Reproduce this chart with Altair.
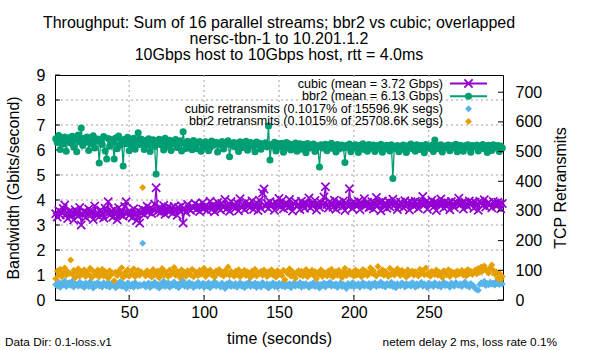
import altair as alt
import pandas as pd

# ---------------- data ----------------
time_s = list(range(1, 300))

cubic_gbps = [
    3.45, 3.32, 3.58, 3.40, 3.50, 3.66, 3.80, 3.42, 3.26, 3.54,
    3.38, 3.52, 3.20, 3.61, 3.47, 3.35, 3.70, 3.00, 3.43, 3.56,
    3.30, 3.48, 3.64, 3.37, 3.53, 3.22, 3.76, 3.41, 3.49, 3.33,
    3.60, 3.44, 3.28, 3.67, 3.51, 3.93, 3.39, 3.55, 3.31, 3.62,
    3.46, 3.21, 3.69, 3.42, 3.58, 3.36, 3.74, 3.93, 3.50, 3.38,
    3.53, 3.29, 3.65, 3.44, 3.18, 3.57, 3.08, 3.49, 3.63, 3.41,
    3.58, 3.75, 3.52, 3.67, 3.46, 3.61, 3.83, 4.49, 3.55, 3.69,
    3.50, 3.64, 3.78, 3.43, 3.60, 3.72, 3.54, 3.66, 3.47, 3.74,
    3.61, 3.39, 3.70, 3.56, 3.77, 3.08, 3.63, 3.51, 3.82, 3.65,
    3.58, 3.73, 3.69, 3.86, 3.62, 3.77, 3.54, 3.71, 3.89, 3.66,
    3.77, 3.58, 3.72, 3.95, 3.62, 3.81, 3.53, 3.75, 3.90, 3.66,
    3.60, 3.86, 3.71, 4.02, 3.64, 3.79, 3.55, 3.94, 3.74, 3.83,
    3.68, 3.88, 3.57, 4.05, 3.70, 3.81, 3.61, 3.92, 3.77, 3.85,
    3.72, 3.96, 3.63, 3.80, 3.89, 3.58, 3.99, 3.67, 4.28, 4.44,
    3.75, 3.86, 3.66, 3.93, 3.78, 3.84, 3.59, 3.91, 3.79, 4.06,
    3.73, 3.97, 3.65, 3.82, 3.89, 3.70, 4.02, 3.77, 3.56, 3.85,
    3.93, 3.74, 3.83, 3.62, 3.95, 3.81, 3.67, 3.88, 3.79, 4.08,
    3.69, 3.86, 3.78, 3.98, 3.60, 3.84, 3.71, 3.90, 3.80, 4.12,
    4.53, 3.82, 3.68, 3.94, 3.87, 3.71, 3.99, 3.63, 3.77, 3.91,
    3.85, 3.73, 3.96, 3.58, 3.88, 3.76, 4.45, 3.84, 3.66, 3.92,
    3.86, 3.75, 3.95, 3.61, 3.89, 3.82, 4.05, 3.77, 3.91, 3.70,
    3.72, 3.93, 3.64, 3.87, 4.10, 3.78, 3.90, 3.57, 3.96, 3.75,
    3.88, 3.67, 3.94, 3.73, 3.86, 4.03, 3.79, 3.91, 3.62, 3.76,
    3.92, 3.85, 3.69, 3.97, 3.82, 3.89, 3.60, 3.93, 3.87, 3.74,
    3.95, 3.83, 3.66, 3.90, 3.86, 4.14, 3.81, 3.92, 3.63, 3.88,
    3.84, 3.99, 3.71, 3.91, 3.58, 3.87, 3.82, 4.04, 3.85, 3.68,
    3.93, 3.76, 3.89, 3.61, 3.94, 3.84, 3.70, 3.90, 3.86, 4.07,
    3.81, 3.88, 3.64, 3.92, 3.85, 3.73, 3.96, 3.83, 3.89, 3.67,
    3.91, 3.84, 3.59, 3.95, 3.87, 3.78, 4.01, 3.72, 3.86, 3.90,
    3.82, 3.69, 3.94, 3.88, 3.76, 3.91, 3.84, 3.65, 3.86,
]

bbr2_gbps = [
    6.45, 6.30, 6.58, 6.02, 6.41, 6.24, 6.52, 5.95, 6.36, 6.49,
    6.28, 6.55, 6.12, 6.43, 5.93, 6.60, 6.33, 6.88, 6.18, 6.47,
    6.31, 6.52, 5.98, 6.40, 6.26, 6.57, 6.08, 6.35, 6.44, 5.48,
    6.38, 6.22, 6.54, 5.96, 5.64, 6.46, 6.15, 6.42, 6.29, 5.64,
    6.48, 6.05, 6.56, 6.19, 6.37, 5.36, 6.43, 6.25, 6.51, 5.97,
    6.40, 6.16, 6.47, 6.03, 6.35, 6.69, 6.22, 6.44, 6.31, 6.02,
    6.38, 6.20, 6.45, 5.94, 6.33, 6.41, 6.14, 5.04, 6.30, 6.43,
    6.21, 6.36, 6.00, 6.47, 6.15, 6.32, 6.39, 5.98, 6.34, 6.25,
    6.42, 6.10, 6.30, 6.37, 5.96, 6.73, 6.27, 6.06, 6.35, 6.22,
    6.31, 6.01, 6.38, 6.24, 6.05, 6.29, 6.34, 5.95, 6.26, 6.13,
    6.33, 6.21, 5.97, 6.10, 6.36, 6.18, 6.25, 6.31, 5.92, 6.27,
    6.20, 6.34, 6.04, 6.29, 6.22, 6.37, 5.73, 6.24, 6.17, 6.30,
    6.12, 6.26, 5.94, 6.33, 6.09, 6.28, 6.19, 6.35, 5.99, 6.23,
    6.30, 6.16, 6.25, 5.93, 6.32, 6.20, 6.27, 6.03, 6.24, 6.18,
    6.29, 6.13, 6.96, 5.60, 6.22, 6.15, 6.31, 5.96, 6.26, 6.19,
    6.12, 6.27, 5.91, 6.05, 6.30, 6.16, 6.24, 6.00, 6.22, 6.14,
    6.28, 5.95, 6.19, 6.25, 6.03, 6.17, 6.23, 5.89, 6.26, 6.07,
    6.20, 6.14, 6.24, 5.94, 6.18, 6.12, 5.32, 6.21, 6.08, 6.16,
    6.23, 5.97, 6.19, 6.13, 6.27, 6.06, 6.17, 5.92, 6.22, 6.04,
    6.15, 6.20, 6.08, 5.50, 6.18, 6.11, 6.24, 5.93, 6.16, 6.09,
    6.21, 6.12, 5.90, 6.19, 6.14, 6.25, 6.02, 6.17, 5.95, 6.22,
    6.08, 6.15, 6.20, 5.94, 6.13, 6.18, 6.07, 6.23, 5.91, 6.16,
    6.05, 6.19, 6.12, 5.96, 6.21, 4.86, 6.14, 6.06, 6.18, 5.93,
    6.15, 6.03, 6.20, 6.11, 5.90, 6.17, 6.13, 6.24, 6.05, 6.16,
    5.95, 6.21, 6.12, 6.02, 6.18, 6.14, 5.89, 6.22, 6.11, 6.15,
    6.06, 6.19, 5.94, 6.40, 6.10, 6.17, 6.04, 6.21, 5.92, 6.08,
    6.16, 6.11, 6.20, 5.97, 6.14, 6.18, 6.09, 6.23, 5.93, 6.07,
    6.19, 6.12, 5.95, 6.17, 6.10, 6.21, 6.15, 5.91, 6.18, 6.11,
    6.14, 6.20, 5.96, 6.16, 6.12, 6.22, 6.05, 6.17, 5.90, 6.19,
    6.13, 5.98, 6.21, 6.15, 6.09, 6.18, 5.94, 6.16, 6.08,
]

cubic_retx = [
    52, 47, 60, 43, 56, 50, 64, 45, 53, 58,
    49, 63, 44, 55, 51, 46, 61, 48, 54, 42,
    57, 50, 45, 62, 53, 40, 55, 49, 59, 47,
    52, 44, 58, 51, 46, 60, 43, 54, 50, 56,
    41, 53, 48, 62, 45, 55, 51, 39, 57, 49,
    46, 54, 43, 59, 50, 45, 52, 48, 191, 55,
    44, 51, 57, 42, 53, 49, 60, 46, 52, 40,
    55, 48, 63, 45, 51, 58, 43, 54, 49, 61,
    47, 52, 41, 57, 50, 65, 46, 53, 44, 59,
    49, 55, 42, 52, 48, 60, 45, 51, 56, 43,
    53, 47, 58, 41, 52, 49, 62, 46, 54, 50,
    44, 57, 51, 39, 55, 48, 60, 45, 52, 47,
    56, 43, 50, 58, 46, 53, 41, 55, 49, 61,
    45, 52, 48, 57, 42, 54, 50, 44, 59, 51,
    47, 55, 40, 52, 49, 58, 45, 53, 43, 56,
    50, 46, 60, 44, 53, 48, 55, 41, 51, 57,
    46, 52, 49, 59, 43, 54, 47, 56, 50, 42,
    53, 48, 58, 45, 51, 55, 40, 52, 49, 57,
    44, 54, 50, 60, 46, 52, 48, 55, 42, 51,
    57, 45, 53, 49, 39, 56, 50, 47, 58, 44,
    52, 49, 55, 43, 51, 59, 46, 53, 48, 56,
    42, 54, 50, 58, 45, 52, 49, 61, 47, 53,
    44, 56, 51, 48, 60, 45, 53, 41, 55, 50,
    47, 58, 52, 44, 56, 49, 53, 46, 59, 51,
    43, 55, 48, 52, 60, 46, 54, 50, 42, 57,
    49, 53, 45, 58, 51, 47, 55, 44, 52, 60,
    48, 54, 50, 43, 57, 51, 46, 59, 52, 49,
    55, 45, 53, 61, 48, 52, 44, 56, 50, 47,
    38, 35, 33, 52, 58, 54, 63, 49, 56, 51,
    60, 53, 57, 50, 62, 55, 52, 58, 54,
]

bbr2_retx = [
    72, 98, 85, 104, 78, 92, 108, 83, 95, 89,
    135, 87, 100, 75, 93, 105, 80, 96, 88, 102,
    79, 94, 86, 107, 76, 97, 90, 83, 101, 78,
    92, 104, 81, 96, 87, 73, 99, 85, 91, 65,
    94, 82, 98, 89, 109, 76, 93, 84, 102, 80,
    96, 87, 105, 78, 91, 100, 83, 95, 379, 88,
    81, 99, 86, 93, 77, 103, 90, 84, 98, 75,
    92, 106, 82, 95, 88, 79, 101, 86, 94, 110,
    83, 97, 89, 76, 102, 87, 93, 80, 99, 91,
    85, 104, 78, 96, 89, 82, 100, 87, 93, 107,
    79, 95, 88, 101, 84, 92, 77, 98, 90, 103,
    86, 94, 81, 99, 88, 111, 83, 96, 89, 80,
    97, 85, 102, 78, 93, 87, 100, 82, 95, 90,
    76, 98, 86, 104, 81, 92, 88, 97, 83, 101,
    89, 79, 95, 87, 102, 84, 93, 77, 99, 86,
    91, 82, 100, 68, 94, 88, 105, 80, 96, 85,
    73, 92, 99, 84, 97, 81, 90, 103, 78, 94,
    87, 100, 83, 96, 72, 91, 86, 102, 79, 93,
    89, 81, 98, 85, 104, 77, 92, 96, 83, 100,
    88, 75, 94, 107, 82, 91, 98, 86, 93, 80,
    101, 84, 95, 89, 78, 103, 87, 97, 82, 92,
    109, 90, 99, 85, 81, 113, 94, 88, 102, 83,
    96, 91, 79, 107, 87, 98, 84, 93, 105, 89,
    82, 100, 88, 94, 77, 102, 86, 91, 98, 83,
    95, 89, 81, 104, 90, 99, 85, 108, 87, 93,
    80, 97, 91, 86, 101, 83, 94, 88, 76, 99,
    90, 85, 102, 79, 96, 88, 93, 82, 98, 87,
    92, 100, 84, 95, 81, 103, 89, 97, 86, 94,
    101, 88, 106, 93, 111, 98, 115, 103, 96, 91,
    109, 118, 100, 87, 95, 73, 91, 68, 79,
]

legend_labels = [
    "cubic (mean = 3.72 Gbps)",
    "bbr2 (mean = 6.13 Gbps)",
    "cubic retransmits (0.1017% of 15596.9K segs)",
    "bbr2 retransmits (0.1015% of 25708.6K segs)",
]
title_lines = [
    "Throughput: Sum of 16 parallel streams; bbr2 vs cubic; overlapped",
    "nersc-tbn-1 to 10.201.1.2",
    "10Gbps host to 10Gbps host, rtt = 4.0ms",
]
x_ticks = [50, 100, 150, 200, 250]
y_ticks = [0, 1, 2, 3, 4, 5, 6, 7, 8, 9]
y2_ticks = [0, 100, 200, 300, 400, 500, 600, 700]
footer_left = "Data Dir: 0.1-loss.v1"
footer_right = "netem delay 2 ms, loss rate 0.1%"

# ---------------- styling ----------------
FONT = "Liberation Sans"
PURPLE, GREEN, BLUE, ORANGE = "#9400d3", "#009e73", "#56b4e9", "#e69f00"
GRID = "#a0a0a0"
W, H = 448, 225
XMARK = "M-1,-1L1,1M-1,1L1,-1"
X_SIZE, CIRC_SIZE, DIA_SIZE = 68, 50, 48

df = pd.DataFrame({
    "t": time_s, "cubic": cubic_gbps, "bbr2": bbr2_gbps,
    "cubic_retx": cubic_retx, "bbr2_retx": bbr2_retx,
})

xs = alt.Scale(domain=[0.5, 299.5], nice=False, zero=False)
ys = alt.Scale(domain=[0, 9], nice=False, zero=False)
y2s = alt.Scale(domain=[0, 758], nice=False, zero=False)

common = dict(labelFont=FONT, titleFont=FONT, labelFontSize=16, titleFontSize=16,
              titleFontWeight="normal", labelColor="black", titleColor="black",
              ticks=False, domain=False, grid=False, labelFlush=False,
              labelOverlap=False, labelBound=False)
xaxis = alt.Axis(values=x_ticks, title="time (seconds)", labelPadding=4,
                 titlePadding=10, **common)
yaxis = alt.Axis(values=y_ticks, title="Bandwidth (Gbits/second)", orient="left",
                 labelPadding=10, titlePadding=15, **common)
y2axis = alt.Axis(values=y2_ticks, title="TCP Retransmits", orient="right",
                  labelPadding=12, titlePadding=27, titleAngle=270, **common)

X = alt.X("t:Q", scale=xs, axis=xaxis)

# grid + ticks (left / bottom)
gx = alt.Chart(pd.DataFrame({"v": x_ticks})).mark_rule(
    color=GRID, strokeDash=[2, 3], strokeWidth=1
).encode(x=alt.X("v:Q", scale=xs, axis=xaxis))
gy = alt.Chart(pd.DataFrame({"v": y_ticks[1:-1]})).mark_rule(
    color=GRID, strokeDash=[2, 3], strokeWidth=1
).encode(y=alt.Y("v:Q", scale=ys, axis=yaxis))
tick_left = alt.Chart(pd.DataFrame({"v": y_ticks})).mark_rule(color="black").encode(
    y=alt.Y("v:Q", scale=ys, axis=yaxis), x=alt.value(0), x2=alt.value(5))
tick_bottom = alt.Chart(pd.DataFrame({"v": x_ticks})).mark_rule(color="black").encode(
    x=alt.X("v:Q", scale=xs, axis=xaxis), y=alt.value(H), y2=alt.value(H - 5))

base = alt.Chart(df)
cubic_line = base.mark_line(color=PURPLE, strokeWidth=1.3).encode(
    x=X, y=alt.Y("cubic:Q", scale=ys, axis=yaxis))
cubic_pts = base.mark_point(shape=XMARK, size=X_SIZE, strokeWidth=1.7, color=PURPLE,
                            opacity=1, filled=False).encode(
    x=X, y=alt.Y("cubic:Q", scale=ys, axis=yaxis))
bbr2_line = base.mark_line(color=GREEN, strokeWidth=1.3).encode(
    x=X, y=alt.Y("bbr2:Q", scale=ys, axis=yaxis))
bbr2_pts = base.mark_circle(size=CIRC_SIZE, color=GREEN, opacity=1).encode(
    x=X, y=alt.Y("bbr2:Q", scale=ys, axis=yaxis))

left_group = alt.layer(gx, gy, tick_left, tick_bottom,
                       cubic_line, cubic_pts, bbr2_line, bbr2_pts)

cretx_pts = base.mark_point(shape="diamond", filled=True, size=DIA_SIZE, color=BLUE,
                            opacity=1).encode(
    x=X, y=alt.Y("cubic_retx:Q", scale=y2s, axis=y2axis))
bretx_pts = base.mark_point(shape="diamond", filled=True, size=DIA_SIZE, color=ORANGE,
                            opacity=1).encode(
    x=X, y=alt.Y("bbr2_retx:Q", scale=y2s, axis=y2axis))
tick_right = alt.Chart(pd.DataFrame({"v": y2_ticks})).mark_rule(color="black").encode(
    y=alt.Y("v:Q", scale=y2s, axis=y2axis), x=alt.value(W - 5), x2=alt.value(W))

right_group = alt.layer(cretx_pts, bretx_pts, tick_right)

# ---------------- manual gnuplot-style key ----------------
leg_y = [8.6, 21.2, 33.8, 46.4]
leg_text_x, leg_line_x1, leg_line_x2, leg_mark_x = 388, 395, 432, 413.5
LEG_FS = 12.6
one = pd.DataFrame({"a": [0]})
legend_layers = []
for i, lab in enumerate(legend_labels):
    legend_layers.append(
        alt.Chart(pd.DataFrame({"label": [lab]})).mark_text(
            align="right", baseline="middle", font=FONT, fontSize=LEG_FS, color="black"
        ).encode(text="label:N", x=alt.value(leg_text_x), y=alt.value(leg_y[i]))
    )
legend_layers += [
    alt.Chart(one).mark_rule(color=PURPLE, strokeWidth=2).encode(
        x=alt.value(leg_line_x1), x2=alt.value(leg_line_x2), y=alt.value(leg_y[0])),
    alt.Chart(one).mark_point(shape=XMARK, size=X_SIZE, strokeWidth=1.8, color=PURPLE,
                              opacity=1).encode(x=alt.value(leg_mark_x), y=alt.value(leg_y[0])),
    alt.Chart(one).mark_rule(color=GREEN, strokeWidth=2).encode(
        x=alt.value(leg_line_x1), x2=alt.value(leg_line_x2), y=alt.value(leg_y[1])),
    alt.Chart(one).mark_circle(size=CIRC_SIZE, color=GREEN, opacity=1).encode(
        x=alt.value(leg_mark_x), y=alt.value(leg_y[1])),
    alt.Chart(one).mark_point(shape="diamond", filled=True, size=DIA_SIZE, color=BLUE,
                              opacity=1).encode(x=alt.value(leg_mark_x), y=alt.value(leg_y[2])),
    alt.Chart(one).mark_point(shape="diamond", filled=True, size=DIA_SIZE, color=ORANGE,
                              opacity=1).encode(x=alt.value(leg_mark_x), y=alt.value(leg_y[3])),
    alt.Chart(pd.DataFrame({"label": [footer_left]})).mark_text(
        align="left", baseline="middle", font=FONT, fontSize=11.8, color="black"
    ).encode(text="label:N", x=alt.value(-50), y=alt.value(267)),
    alt.Chart(pd.DataFrame({"label": [footer_right]})).mark_text(
        align="right", baseline="middle", font=FONT, fontSize=11.8, color="black"
    ).encode(text="label:N", x=alt.value(502), y=alt.value(267)),
]

chart = alt.layer(left_group, right_group, *legend_layers).resolve_scale(
    y="independent"
).properties(
    width=W, height=H,
    autosize=alt.AutoSizeParams(type="none"),
    padding={"left": 55, "top": 75, "right": 97, "bottom": 50},
    title=alt.TitleParams(text=title_lines, font=FONT, fontSize=16,
                          fontWeight="normal", color="black", anchor="middle",
                          lineHeight=16.2, offset=9, baseline="bottom", dy=21),
    background="white",
).configure_view(stroke="black", strokeWidth=1)

chart.save("out.html", embed_options={"renderer": "svg", "actions": False})
